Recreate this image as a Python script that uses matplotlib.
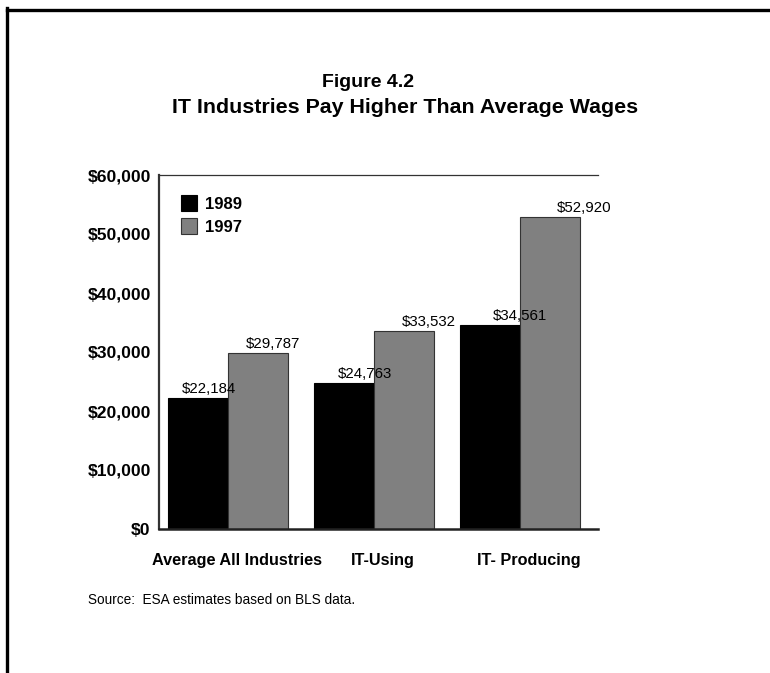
import matplotlib
matplotlib.use("Agg")
import matplotlib.pyplot as plt
from matplotlib.patches import Patch
import numpy as np

plt.rcParams["font.family"] = ["Liberation Sans", "DejaVu Sans"]

# Datos
categories = ["Average All Industries", "IT-Using", "IT- Producing"]
years = ["1989", "1997"]
wages_1989 = [22184, 24763, 34561]
wages_1997 = [29787, 33532, 52920]
y_ticks = [0, 10000, 20000, 30000, 40000, 50000, 60000]

colors = ["#000000", "#808080"]
edges = ["#000000", "#333333"]

fig = plt.figure(figsize=(7.70, 6.73), dpi=100)
ax = fig.add_axes([159 / 770, 1 - 529 / 673, 439 / 770, 354 / 673])

x = np.arange(len(categories))
width = 0.41
series = [wages_1989, wages_1997]
for i, vals in enumerate(series):
    pos = x + (i - 0.5) * width
    ax.bar(pos, vals, width, color=colors[i], edgecolor=edges[i], linewidth=0.8)
    for px, v in zip(pos, vals):
        # las etiquetas del original se desplazan hacia la derecha
        lx = px + 0.075 + 0.065 * (px + 0.205)
        ax.annotate(f"${v:,}", (lx, v), xytext=(0, 1.5), textcoords="offset points",
                    ha="center", va="bottom", fontsize=10.8)

ax.set_xlim(-0.47, 2.53)
ax.set_ylim(0, 60000)
ax.set_yticks(y_ticks)
ax.set_yticklabels([f"${t:,}" for t in y_ticks], fontsize=12.6, fontweight="bold")
ax.set_xticks(x + 0.06)
ax.set_xticklabels(categories, fontsize=11.7, fontweight="bold")
ax.tick_params(axis="both", length=0)
ax.tick_params(axis="y", pad=6)
ax.tick_params(axis="x", pad=17)

ax.spines["right"].set_visible(False)
ax.spines["top"].set_linewidth(0.9)
ax.spines["top"].set_color("#333333")
ax.spines["left"].set_linewidth(1.6)
ax.spines["left"].set_color("#333333")
ax.spines["bottom"].set_linewidth(1.8)
ax.spines["bottom"].set_color("#222222")

handles = [Patch(facecolor=colors[i], edgecolor=edges[i], linewidth=0.8) for i in range(2)]
ax.legend(handles, years, loc="upper left",
          bbox_to_anchor=((181 - 159) / 439, (529 - 195) / 354),
          frameon=False, borderpad=0, borderaxespad=0,
          handlelength=0.95, handleheight=1.1, handletextpad=0.5,
          labelspacing=0.38, prop={"size": 12, "weight": "bold"})

fig.text(368 / 770, 1 - 87 / 673, "Figure 4.2", ha="center", va="baseline",
         fontsize=14, fontweight="bold")
fig.text(405 / 770, 1 - 113 / 673, "IT Industries Pay Higher Than Average Wages",
         ha="center", va="baseline", fontsize=15.4, fontweight="bold")
fig.text(88 / 770, 1 - 600 / 673, "Source:  ESA estimates based on BLS data.",
         ha="left", va="center", fontsize=9.8)

# marco exterior (arriba e izquierda)
fig.add_artist(plt.Line2D([7 / 770, 1], [1 - 9.5 / 673, 1 - 9.5 / 673],
                          color="black", linewidth=2.4, transform=fig.transFigure))
fig.add_artist(plt.Line2D([7 / 770, 7 / 770], [0, 1 - 8 / 673],
                          color="black", linewidth=2.4, transform=fig.transFigure))

fig.savefig("out.png", dpi=100, facecolor="white")
